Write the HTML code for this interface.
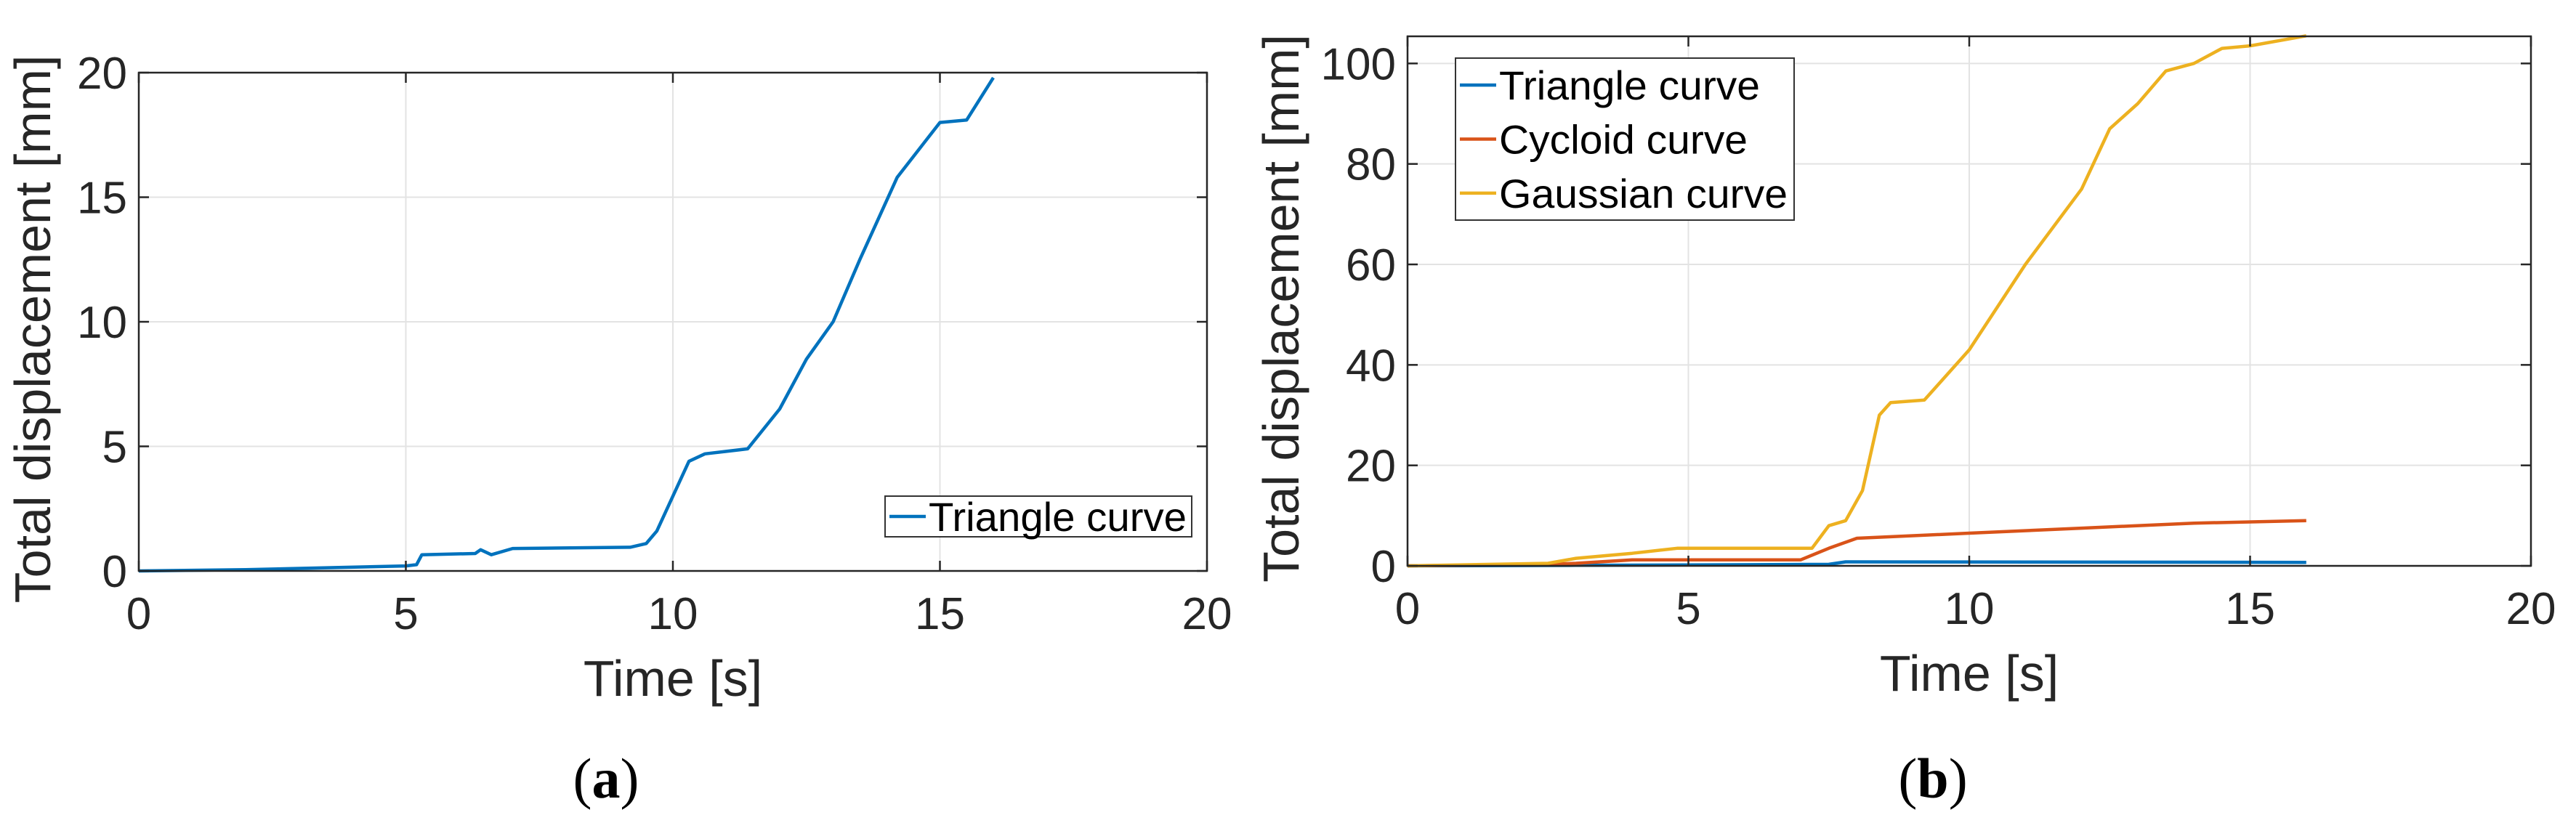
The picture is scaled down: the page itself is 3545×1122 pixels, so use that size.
<!DOCTYPE html>
<html><head><meta charset="utf-8"><style>
html,body{margin:0;padding:0;background:#fff;}
svg{display:block;font-family:"Liberation Sans",Arial,sans-serif;}
</style></head><body>
<svg id="fig" width="3545" height="1122" viewBox="0 0 3545 1122">
<g id="ga"></g>
<g id="gb"></g>
<text x="834" y="1098" font-family="Liberation Serif, serif" font-size="78" text-anchor="middle">(<tspan font-weight="bold">a</tspan>)</text>
<text x="2660" y="1098" font-family="Liberation Serif, serif" font-size="78" text-anchor="middle">(<tspan font-weight="bold">b</tspan>)</text>
</svg>
<script>
const xTicks=[0,5,10,15,20];
const aYTicks=[0,5,10,15,20];
const bYTicks=[0,20,40,60,80,100];
const aTriT=[0,2,5,5.2,5.3,6.3,6.4,6.6,7,9.2,9.5,9.7,10,10.3,10.6,11,11.4,12,12.5,13,13.5,14.2,15,15.5,16];
const aTriV=[0,0.05,0.2,0.25,0.65,0.7,0.85,0.65,0.9,0.95,1.1,1.6,3,4.4,4.7,4.8,4.9,6.5,8.5,10,12.5,15.8,18,18.1,19.8];
const bTriT=[0,3,7.5,7.8,16];
const bTriV=[0,0.1,0.3,0.8,0.7];
const bCycT=[0,2.5,3,4,7,7.5,8,9,10,12,14,16];
const bCycV=[0,0.3,0.5,1.2,1.2,3.5,5.5,6,6.5,7.5,8.5,9];
const bGauT=[0,2.5,3,4,4.8,7.2,7.5,7.8,8.1,8.4,8.6,9.2,10,11,12,12.5,13,13.5,14,14.5,15,16];
const bGauV=[0,0.5,1.5,2.5,3.5,3.5,8,9,15,30,32.5,33,43,60,75,87,92,98.5,100,103,103.5,105.5];
const NS="http://www.w3.org/2000/svg";
function mk(p,tag,at,txt){const e=document.createElementNS(NS,tag);for(const k in at)e.setAttribute(k,at[k]);if(txt!==undefined)e.textContent=txt;p.appendChild(e);return e;}
function chart(g,L,R,T,B,ymax,yTicks,series,leg,yOff){
  const sx=v=>L+(v/20)*(R-L), sy=v=>B-(v/ymax)*(B-T);
  xTicks.forEach(t=>{if(t>0&&t<20){const l=mk(g,'line',{x1:sx(t),x2:sx(t),y1:T,y2:B,stroke:'#e3e3e3','stroke-width':2});
    
    }});
  yTicks.forEach(t=>{if(t>0&&t<ymax){const l=mk(g,'line',{x1:L,x2:R,y1:sy(t),y2:sy(t),stroke:'#e3e3e3','stroke-width':2});
    
    }});
  series.forEach(s=>{const pts=s.t.map((t,i)=>sx(t).toFixed(1)+','+sy(s.v[i]).toFixed(1)).join(' ');
    const p=mk(g,'polyline',{points:pts,fill:'none',stroke:s.c,'stroke-width':4.5,'stroke-linejoin':'round'});
    
    });
  const box=mk(g,'rect',{x:L,y:T,width:R-L,height:B-T,fill:'none',stroke:'#262626','stroke-width':2.5});
  
  
  xTicks.forEach(t=>{mk(g,'line',{x1:sx(t),x2:sx(t),y1:B,y2:B-14,stroke:'#262626','stroke-width':2.5});
    mk(g,'line',{x1:sx(t),x2:sx(t),y1:T,y2:T+14,stroke:'#262626','stroke-width':2.5});
    const tx=mk(g,'text',{x:sx(t),y:B+80,'font-size':62,'text-anchor':'middle',fill:'#262626'},String(t));
    
    });
  yTicks.forEach(t=>{mk(g,'line',{x1:L,x2:L+14,y1:sy(t),y2:sy(t),stroke:'#262626','stroke-width':2.5});
    mk(g,'line',{x1:R,x2:R-14,y1:sy(t),y2:sy(t),stroke:'#262626','stroke-width':2.5});
    const tx=mk(g,'text',{x:L-16,y:sy(t)+22,'font-size':62,'text-anchor':'end',fill:'#262626'},String(t));
    
    });
  const xt=mk(g,'text',{x:(L+R)/2,y:B+172,'font-size':70,'text-anchor':'middle',fill:'#262626'},'Time [s]');
  
  
  const yt=mk(g,'text',{x:0,y:0,'font-size':70,'text-anchor':'middle',fill:'#262626',transform:`translate(${L-yOff},${(T+B)/2+10}) rotate(-90)`},'Total displacement [mm]');
  
  
  const lg=mk(g,'g',{});
  
  
  mk(lg,'rect',{x:leg.x,y:leg.y,width:leg.w,height:leg.h,fill:'#fff',stroke:'#333','stroke-width':2});
  series.forEach((s,i)=>{const cy=leg.y+leg.h/series.length*(i+0.5);
    const e=mk(lg,'g',{});
    
    
    mk(e,'line',{x1:leg.x+6,x2:leg.x+56,y1:cy,y2:cy,stroke:s.c,'stroke-width':4.5});
    mk(e,'text',{x:leg.x+60,y:cy+20,'font-size':56,fill:'#000',textLength:s.lw,lengthAdjust:'spacingAndGlyphs'},s.label);});
}
chart(document.getElementById('ga'),191,1661,100,786,20,aYTicks,
 [{t:aTriT,v:aTriV,c:'#0072bd',n:'triangle-curve-line',label:'Triangle curve',lw:355}],
 {x:1218,y:683,w:422,h:56},122);
chart(document.getElementById('gb'),1937,3483,50,779,105.4,bYTicks,
 [{t:bTriT,v:bTriV,c:'#0072bd',n:'triangle-curve-line',label:'Triangle curve',lw:359},
  {t:bCycT,v:bCycV,c:'#d95319',n:'cycloid-curve-line',label:'Cycloid curve',lw:342},
  {t:bGauT,v:bGauV,c:'#edb120',n:'gaussian-curve-line',label:'Gaussian curve',lw:397}],
 {x:2003,y:80,w:466,h:223},150);
</script>
</body></html>
